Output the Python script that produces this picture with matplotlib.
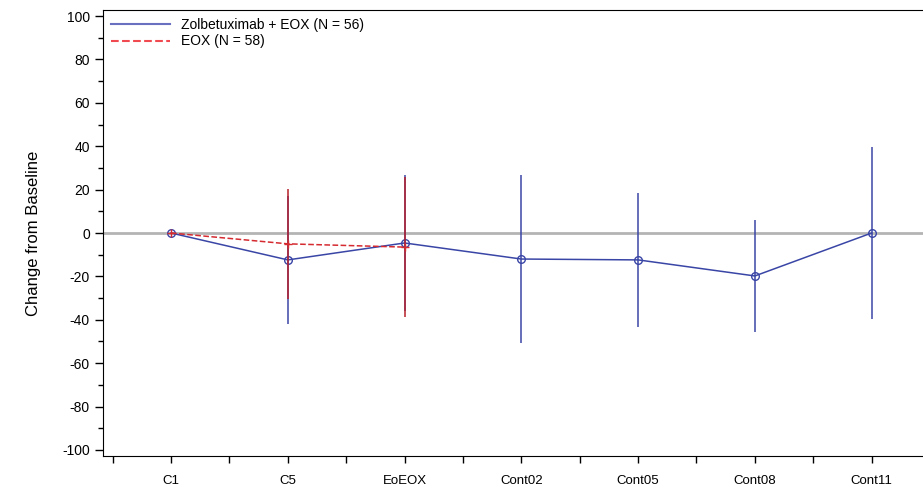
import numpy as np
import matplotlib
matplotlib.use("Agg")
import matplotlib.pyplot as plt
from matplotlib.ticker import MultipleLocator, FixedLocator
from matplotlib.lines import Line2D

# visits and values
visits = ["C1", "C5", "EoEOX", "Cont02", "Cont05", "Cont08", "Cont11"]

zolb_mean = [0, -12.4, -4.6, -12.0, -12.4, -19.8, 0]
zolb_sd = [0, 29.6, 31.3, 38.7, 30.8, 26.0, 39.6]

eox_mean = [0, -5.0, -6.5]
eox_sd = [0, 25.5, 32.2]

blue = "#3a46a6"
red = "#d42a30"

plt.rcParams['font.family'] = ['Liberation Sans', 'DejaVu Sans']
plt.rcParams['axes.unicode_minus'] = False

fig = plt.figure(figsize=(9.23, 4.88), dpi=100)
ax = fig.add_axes([103 / 923, 1 - 456 / 488, 1 - 103 / 923, (456 - 10) / 488])

x = np.arange(len(visits))
xe = np.arange(len(eox_mean))

ax.axhline(0, color="#b4b4b4", lw=2, zorder=1)

ax.errorbar(x, zolb_mean, yerr=zolb_sd, color=blue, lw=1.1, elinewidth=1.1,
            capsize=0, marker="o", ms=5.5, mfc="none", mec=blue, mew=1,
            label="Zolbetuximab + EOX (N = 56)", zorder=3)
ax.errorbar(xe, eox_mean, yerr=eox_sd, color=red, lw=1.1, ls="--",
            elinewidth=1.1, ecolor="#b8202a", capsize=0, marker="+", ms=6,
            mew=1, label="EOX (N = 58)", zorder=4)

ax.set_xlim(-0.583, 6.44)
ax.set_ylim(-102.8, 102.8)
ax.set_xticks(x)
ax.set_xticklabels(visits, fontsize=9.5)
ax.xaxis.set_minor_locator(FixedLocator(np.arange(-0.5, 6.6, 1)))
ax.yaxis.set_major_locator(MultipleLocator(20))
ax.yaxis.set_minor_locator(MultipleLocator(10))
ax.tick_params(axis="y", labelsize=10)
ax.tick_params(which="major", length=6, width=1)
ax.tick_params(which="minor", length=3.5, width=1)
ax.tick_params(axis="x", which="both", length=5, pad=9)
ax.set_ylabel("Change from Baseline", fontsize=12, labelpad=15)
ax.spines["right"].set_visible(False)

labels = ["Zolbetuximab + EOX (N = 56)", "EOX (N = 58)"]
h = [Line2D([], [], color="#6a70c0", lw=1.5),
     Line2D([], [], color="#f04a50", lw=1.5, ls="--")]
ax.legend(h, labels, loc="upper left", frameon=False, fontsize=10,
          handlelength=4.2, borderaxespad=0.2, labelspacing=0.15)

fig.savefig("out.png", dpi=100)
